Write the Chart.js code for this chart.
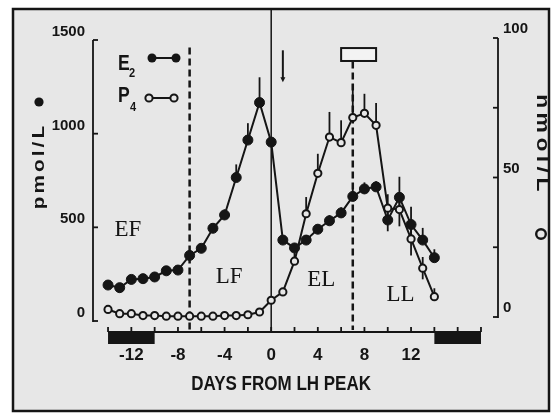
<!DOCTYPE html>
<html><head><meta charset="utf-8">
<script src="https://cdn.jsdelivr.net/npm/chart.js@4/dist/chart.umd.min.js"></script>
<style>html,body{margin:0;padding:0;background:#fff;}canvas{display:block;}</style>
</head><body>
<canvas id="c" width="555" height="416"></canvas>
<script>
// ---- data ----
const days = [-14,-13,-12,-11,-10,-9,-8,-7,-6,-5,-4,-3,-2,-1,0,1,2,3,4,5,6,7,8,9,10,11,12,13,14];
const e2Values = [192,178,222,226,235,268,272,350,388,495,566,766,966,1166,955,432,390,432,490,535,577,665,705,716,539,660,515,432,338];
const e2ErrUp   = [0,0,0,0,0,0,0,0,15,25,30,70,90,135,0,0,0,25,25,30,30,40,35,30,40,110,95,65,45];
const e2ErrDown = [0,0,0,0,0,0,0,0,0,0,0,0,0,0,0,0,0,0,0,0,0,0,0,0,60,60,60,0,0];
const p4Values = [2.7,1.2,1.2,0.5,0.5,0.3,0.3,0.3,0.3,0.3,0.5,0.5,0.8,1.8,6,9,20,37,51.5,64.5,62.5,71.5,73,68.7,39,38.5,28,17.5,7.3];
const p4ErrUp   = [0,0,0,0,0,0,0,0,0,0,0,0,0,0,0,0,3,6,7,9,8,12,7,8,5,5,5,4,3];
const p4ErrDown = [0,0,0,0,0,0,0,0,0,0,0,0,0,0,0,0,0,0,0,0,0,0,0,0,5,6,6,4,0];
const xTickValues = [-14,-12,-10,-8,-6,-4,-2,0,2,4,6,8,10,12,14,16,18];
const xTickLabels = [-12,-8,-4,0,4,8,12];
const leftTickValues = [0,500,1000,1500];
const rightTickValues = [0,25,50,75,100];
const rightTickLabels = [0,50,100];
const phaseNames = ['EF','LF','EL','LL'];
const phaseDays = [-12.3,-3.6,4.3,11.1];
const phaseLevels = [486,235,219,139];
const boundaryDays = [-7,7];
const lhPeakDay = 0;
const menstruationRanges = [[-14,-10],[14,18]];

// ---- styling ----
const ink = '#151515';
const paper = '#e7e7e7';
const sans = "'Liberation Sans', Arial, sans-serif";
const serif = "'Liberation Serif', 'Times New Roman', serif";

function vline(ctx, x, y1, y2, w, dash){
  ctx.save(); ctx.beginPath(); ctx.lineWidth=w; ctx.strokeStyle=ink;
  if(dash) ctx.setLineDash(dash);
  ctx.moveTo(x,y1); ctx.lineTo(x,y2); ctx.stroke(); ctx.restore();
}
function drawText(ctx, text, cx, cy, angle, font, spacing, stretch, align, baseline){
  ctx.save();
  ctx.translate(cx, cy); ctx.rotate(angle); ctx.scale(stretch,1);
  ctx.font = font; ctx.fillStyle = ink; ctx.textAlign=align||'center'; ctx.textBaseline=baseline||'middle';
  try{ ctx.letterSpacing = spacing+'px'; }catch(e){}
  ctx.fillText(text, 0, 0);
  ctx.restore();
}

const decor = {
  id:'decor',
  beforeDraw(chart){
    const ctx = chart.ctx;
    ctx.save();
    ctx.fillStyle='#fff'; ctx.fillRect(0,0,555,416);
    ctx.fillStyle=paper; ctx.fillRect(13,9,536,402);
    ctx.lineWidth=2.5; ctx.strokeStyle=ink; ctx.strokeRect(13,9,536,402);
    ctx.restore();
  },
  beforeDatasetsDraw(chart){
    const {ctx, chartArea:ca, scales} = chart;
    const x = scales.x, yL = scales.yL, yR = scales.yR;
    ctx.save();
    ctx.strokeStyle = ink; ctx.fillStyle = ink;
    // left axis (bracket)
    const lx = ca.left;
    vline(ctx, lx, yL.getPixelForValue(1500), yL.getPixelForValue(0)+1, 1.8);
    leftTickValues.forEach(v=>{ const p=yL.getPixelForValue(v); ctx.beginPath(); ctx.lineWidth=1.8; ctx.moveTo(lx,p); ctx.lineTo(lx+5,p); ctx.stroke(); });
    // right axis
    const rx = ca.right;
    vline(ctx, rx, yR.getPixelForValue(100), yR.getPixelForValue(0)+1, 1.8);
    rightTickValues.forEach(v=>{ const p=yR.getPixelForValue(v); ctx.beginPath(); ctx.lineWidth=1.8; ctx.moveTo(rx,p); ctx.lineTo(rx-5,p); ctx.stroke(); });
    // x axis
    const by = ca.bottom;
    ctx.beginPath(); ctx.lineWidth=2; ctx.moveTo(x.getPixelForValue(-14), by); ctx.lineTo(x.getPixelForValue(18), by); ctx.stroke();
    xTickValues.forEach(v=>{ const p=x.getPixelForValue(v); ctx.beginPath(); ctx.lineWidth=1.8; ctx.moveTo(p,by); ctx.lineTo(p,by-5); ctx.stroke(); });
    // menstruation bars
    menstruationRanges.forEach(r=>{ const a=x.getPixelForValue(r[0]), b=x.getPixelForValue(r[1]); ctx.fillRect(a, by, b-a, 12); });
    // LH peak line
    vline(ctx, x.getPixelForValue(lhPeakDay), 10, by, 1.5);
    // phase boundaries
    vline(ctx, x.getPixelForValue(boundaryDays[0]), yL.getPixelForValue(1460), by-2, 2.5, [7,4]);
    vline(ctx, x.getPixelForValue(boundaryDays[1]), yL.getPixelForValue(1385), by-2, 2.5, [7,4]);
    // box near top
    const bx1=x.getPixelForValue(6), bx2=x.getPixelForValue(9), bt=yL.getPixelForValue(1457), bb=yL.getPixelForValue(1388);
    ctx.fillStyle='#f3f3f3'; ctx.fillRect(bx1,bt,bx2-bx1,bb-bt);
    ctx.lineWidth=2; ctx.strokeRect(bx1,bt,bx2-bx1,bb-bt);
    ctx.fillStyle=ink;
    // small arrow at day 1
    const ax=x.getPixelForValue(1), at=yL.getPixelForValue(1445), ab=yL.getPixelForValue(1275);
    vline(ctx, ax, at, ab-3, 2);
    ctx.beginPath(); ctx.moveTo(ax-2.5,ab-5); ctx.lineTo(ax+2.5,ab-5); ctx.lineTo(ax,ab); ctx.closePath(); ctx.fill();
    // error bars
    ctx.lineWidth=1.8;
    days.forEach((d,i)=>{
      const px=x.getPixelForValue(d);
      if(e2ErrUp[i]||e2ErrDown[i]){ ctx.beginPath(); ctx.moveTo(px, yL.getPixelForValue(e2Values[i]-e2ErrDown[i])); ctx.lineTo(px, yL.getPixelForValue(e2Values[i]+e2ErrUp[i])); ctx.stroke(); }
      if(p4ErrUp[i]||p4ErrDown[i]){ ctx.beginPath(); ctx.moveTo(px, yR.getPixelForValue(p4Values[i]-p4ErrDown[i])); ctx.lineTo(px, yR.getPixelForValue(p4Values[i]+p4ErrUp[i])); ctx.stroke(); }
    });
    // phase labels
    ctx.font = "23px "+serif; ctx.textAlign='center'; ctx.textBaseline='middle';
    phaseNames.forEach((t,i)=>{ ctx.fillText(t, x.getPixelForValue(phaseDays[i]), yL.getPixelForValue(phaseLevels[i])); });
    // legend
    drawText(ctx, 'E', 118, 70, 0, "bold 22px "+sans, 0, 0.8, 'left', 'alphabetic');
    drawText(ctx, 'P', 118, 102, 0, "bold 22px "+sans, 0, 0.8, 'left', 'alphabetic');
    drawText(ctx, '2', 129, 77, 0, "bold 13px "+sans, 0, 0.85, 'left', 'alphabetic');
    drawText(ctx, '4', 130, 111, 0, "bold 13px "+sans, 0, 0.85, 'left', 'alphabetic');
    ctx.lineWidth=2; ctx.strokeStyle=ink; ctx.fillStyle=ink;
    ctx.beginPath(); ctx.moveTo(152,58); ctx.lineTo(176,58); ctx.stroke();
    [152,176].forEach(cx=>{ ctx.beginPath(); ctx.arc(cx,58,4.5,0,Math.PI*2); ctx.fill(); });
    ctx.beginPath(); ctx.moveTo(149,98); ctx.lineTo(174,98); ctx.stroke();
    [149,174].forEach(cx=>{ ctx.beginPath(); ctx.arc(cx,98,3.6,0,Math.PI*2); ctx.fillStyle=paper; ctx.fill(); ctx.stroke(); });
    ctx.fillStyle=ink;
    // axis titles
    drawText(ctx, 'pmol/L', 39, 166, -Math.PI/2, "bold 17px "+sans, 2.5, 1.22);
    ctx.beginPath(); ctx.arc(39,102,4.6,0,Math.PI*2); ctx.fill();
    drawText(ctx, 'nmol/L', 542, 145, Math.PI/2, "bold 18px "+sans, 3.5, 1.27);
    ctx.beginPath(); ctx.lineWidth=2.4; ctx.arc(541,234,4.8,0,Math.PI*2); ctx.stroke();
    // x title
    drawText(ctx, 'DAYS FROM LH PEAK', x.getPixelForValue(0.85), 390, 0, "bold 20px "+sans, 0, 0.85, 'center', 'alphabetic');
    ctx.restore();
  }
};

const e2Points = days.map((d,i)=>({x:d, y:e2Values[i]}));
const p4Points = days.map((d,i)=>({x:d, y:p4Values[i]}));

new Chart(document.getElementById('c'), {
  type:'line',
  data:{ datasets:[
    { label:'E2', data:e2Points, yAxisID:'yL', borderColor:ink, borderWidth:2, backgroundColor:ink,
      pointRadius:5, pointBackgroundColor:ink, pointBorderColor:ink, pointBorderWidth:1, tension:0, fill:false },
    { label:'P4', data:p4Points, yAxisID:'yR', borderColor:ink, borderWidth:2, backgroundColor:paper,
      pointRadius:3.6, pointBackgroundColor:paper, pointBorderColor:ink, pointBorderWidth:2, tension:0, fill:false }
  ]},
  options:{
    responsive:false, animation:false, devicePixelRatio:1,
    layout:{ padding:{ top:38, left:0, right:0, bottom:0 } },
    plugins:{ legend:{display:false}, tooltip:{enabled:false}, title:{display:false} },
    clip:false,
    scales:{
      x:{ type:'linear', position:'bottom', min:-15.29, max:19.46,
        afterBuildTicks:s=>{ s.ticks = xTickValues.map(v=>({value:v})); },
        afterFit:s=>{ s.height = 84; },
        grid:{ display:false, drawTicks:false }, border:{ display:false },
        ticks:{ autoSkip:false, maxRotation:0, padding:13, color:ink,
          font:{ family:sans, size:17, weight:'bold' },
          callback:v=> xTickLabels.includes(v) ? String(v) : '' } },
      yL:{ type:'linear', position:'left', min:-58.7, max:1510.7,
        afterBuildTicks:s=>{ s.ticks = leftTickValues.map(v=>({value:v})); },
        afterFit:s=>{ s.width = 93; },
        grid:{ display:false, drawTicks:false }, border:{ display:false },
        ticks:{ padding:8, labelOffset:-8, color:ink, font:{ family:sans, size:15, weight:'bold' }, callback:v=>String(v) } },
      yR:{ type:'linear', position:'right', min:-5.376, max:100,
        afterBuildTicks:s=>{ s.ticks = rightTickValues.map(v=>({value:v})); },
        afterFit:s=>{ s.width = 57; },
        grid:{ display:false, drawTicks:false }, border:{ display:false },
        ticks:{ padding:5, labelOffset:-9, color:ink, font:{ family:sans, size:15, weight:'bold' },
          callback:v=> rightTickLabels.includes(v) ? String(v) : '' } }
    }
  },
  plugins:[decor]
});
</script>
</body></html>
